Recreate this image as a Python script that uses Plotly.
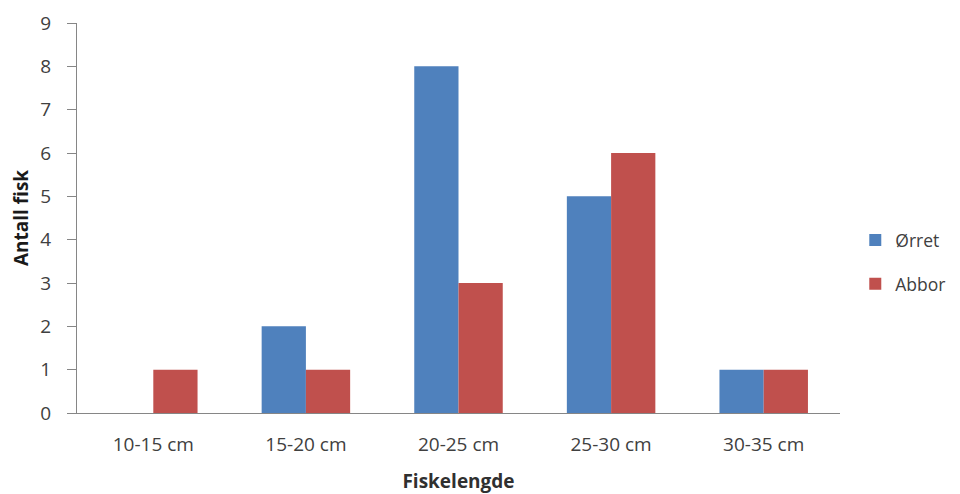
import plotly.graph_objects as go

categories = ["10-15 cm", "15-20 cm", "20-25 cm", "25-30 cm", "30-35 cm"]
orret = [0, 2, 8, 5, 1]
abbor = [1, 1, 3, 6, 1]
y_ticks = [0, 1, 2, 3, 4, 5, 6, 7, 8, 9]

font_family = "Open Sans, Liberation Sans, sans-serif"

fig = go.Figure()
fig.add_trace(go.Bar(x=categories, y=orret, name="Ørret", legendgroup="a",
                     marker=dict(color="#4F81BD", line_width=0)))
fig.add_trace(go.Bar(x=categories, y=abbor, name="Abbor", legendgroup="b",
                     marker=dict(color="#C0504D", line_width=0)))

fig.update_layout(
    width=952, height=486,
    barmode="group", bargap=0.42, bargroupgap=0,
    plot_bgcolor="white", paper_bgcolor="white",
    margin=dict(l=69, r=120, t=15, b=81),
    font=dict(family=font_family, size=19, color="#404040"),
    legend=dict(xref="container", yref="container", x=0.89, y=0.477,
                yanchor="middle", xanchor="left",
                font=dict(size=17.5, color="#404040"), tracegroupgap=18,
                itemwidth=30, borderwidth=0, bgcolor="rgba(0,0,0,0)"),
    xaxis=dict(showline=True, linecolor="#868686", linewidth=1, ticks="",
               automargin=False, ticklabelstandoff=14,
               title=dict(text="<b>Fiskelengde</b>", font=dict(size=19, color="#303030"), standoff=20),
               tickfont=dict(size=19), showgrid=False),
    yaxis=dict(range=[0, 9], tickvals=y_ticks, showline=True, linecolor="#868686", linewidth=1,
               automargin=False, ticklabelstandoff=12,
               ticks="outside", ticklen=9, tickcolor="#868686", showgrid=False, zeroline=False,
               title=dict(text="<b>Antall fisk</b>", font=dict(size=19, color="#1a1a1a"), standoff=8),
               tickfont=dict(size=19)),
)

fig.write_html("out.html")
